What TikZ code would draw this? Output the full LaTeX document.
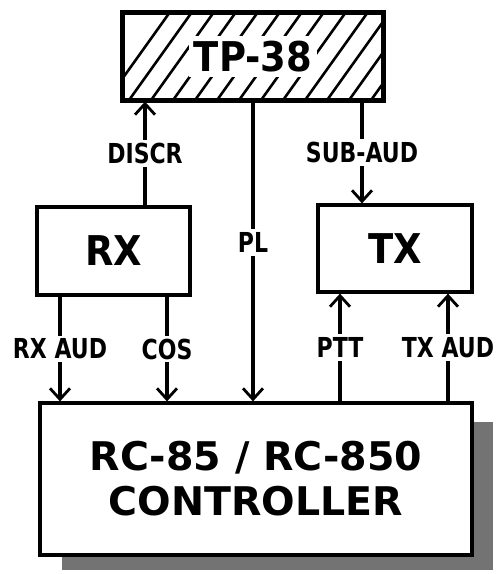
\documentclass[tikz,border=0pt]{standalone}
\usepackage{fontspec}
\setmainfont{DejaVu Sans}
\newfontfamily\lblfont[FakeStretch=0.8]{DejaVu Sans}
\newfontfamily\bigfont[FakeStretch=0.9]{DejaVu Sans}
\usetikzlibrary{arrows.meta}
\begin{document}
\begin{tikzpicture}[x=1pt,y=-1pt,
  box/.style={draw,line width=3.2pt,fill=white,inner sep=0pt},
  conn/.style={line width=3.2pt},
  arr/.style={conn,-{Straight Barb[length=11pt,width=20pt,line width=2.8pt]}},
  lab/.style={fill=white,inner sep=3pt,font=\lblfont\fontsize{27.5}{27.5}\selectfont\bfseries},
  big/.style={font=\bigfont\fontsize{41}{41}\selectfont\bfseries}]
\useasboundingbox (0,0) rectangle (496,574);
% shadow
\fill[black!55] (62,422) rectangle (493,570);
% boxes
\node[box,minimum width=260pt,minimum height=87pt] (tp) at (253,56.5) {};
\begin{scope}
\clip (tp.south west) rectangle (tp.north east);
\foreach \i in {0,22,...,360}{
  \draw[line width=2.6pt] (100+\i,110) -- (175+\i,5);
}
\end{scope}
\draw[line width=3.2pt] (tp.south west) rectangle (tp.north east);
\node[big,fill=white,inner sep=5pt] (tpt) at (tp) {TP-38};
\node[box,minimum width=153pt,minimum height=88pt,big] (rx) at (113.5,251) {RX};
\node[box,minimum width=154pt,minimum height=87pt,big] (tx) at (395,248.5) {TX};
\node[box,minimum width=432pt,minimum height=152pt,align=center,
  font=\fontsize{39.5}{45}\selectfont\bfseries] (ctrl) at (256,479) {RC-85 / RC-850\\CONTROLLER};
% x positions
\coordinate (xd) at (145,0);
\coordinate (xp) at (253,0);
\coordinate (xs) at (362,0);
\coordinate (xra) at (60,0);
\coordinate (xc) at (167,0);
\coordinate (xt) at (340,0);
\coordinate (xta) at (448,0);
% connectors
\draw[arr] (rx.north -| xd) -- node[lab] {DISCR} (tp.south -| xd);
\draw[arr] (tp.south -| xp) -- node[lab,pos=0.47] {PL} (ctrl.north -| xp);
\draw[arr] (tp.south -| xs) -- node[lab] {SUB-AUD} (tx.north -| xs);
\draw[arr] (rx.south -| xra) -- node[lab] {RX AUD} (ctrl.north -| xra);
\draw[arr] (rx.south -| xc) -- node[lab] {COS} (ctrl.north -| xc);
\draw[arr] (ctrl.north -| xt) -- node[lab] {PTT} (tx.south -| xt);
\draw[arr] (ctrl.north -| xta) -- node[lab] {TX AUD} (tx.south -| xta);
\end{tikzpicture}
\end{document}
